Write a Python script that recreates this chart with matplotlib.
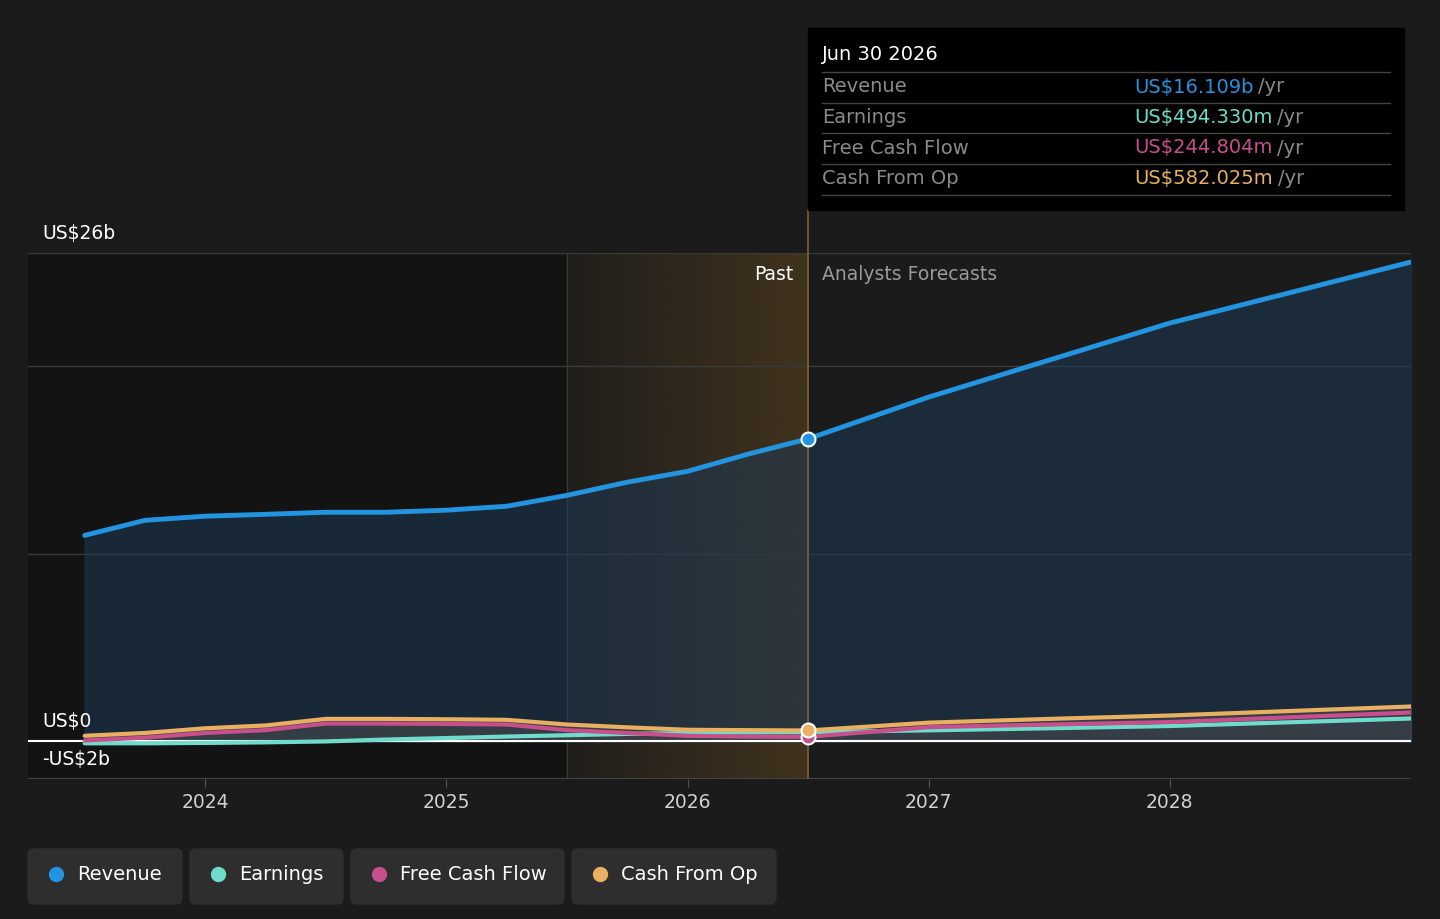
import numpy as np
import matplotlib
matplotlib.use("Agg")
import matplotlib.pyplot as plt
from matplotlib.patches import FancyBboxPatch, Rectangle

# datos (miles de millones US$)
past_x = [2023.5, 2023.75, 2024.0, 2024.25, 2024.5, 2024.75, 2025.0, 2025.25,
          2025.5, 2025.75, 2026.0, 2026.25, 2026.5]
revenue_past = [10.97, 11.77, 11.99, 12.09, 12.2, 12.2, 12.31, 12.52,
                13.1, 13.8, 14.38, 15.29, 16.109]
earnings_past = [-0.1, -0.1, -0.08, -0.05, 0.0, 0.1, 0.18, 0.26,
                 0.33, 0.4, 0.45, 0.48, 0.494]
fcf_past = [0.05, 0.2, 0.45, 0.6, 0.95, 0.95, 0.93, 0.9,
            0.6, 0.45, 0.3, 0.26, 0.245]
cfo_past = [0.3, 0.45, 0.7, 0.85, 1.2, 1.2, 1.18, 1.15,
            0.9, 0.75, 0.62, 0.6, 0.582]

fc_x = [2026.5, 2027.0, 2027.5, 2028.0, 2029.0]
revenue_fc = [16.109, 18.33, 20.3, 22.27, 25.52]
earnings_fc = [0.494, 0.59, 0.7, 0.82, 1.22]
fcf_fc = [0.245, 0.76, 0.9, 1.03, 1.54]
cfo_fc = [0.582, 1.0, 1.2, 1.38, 1.86]

year_ticks = [2024, 2025, 2026, 2027, 2028]

BG = "#1b1b1b"
C_REV = "#2394df"
C_EARN = "#6fdccb"
C_FCF = "#c64f8c"
C_CFO = "#e8b060"

W, H = 1440, 919
fig = plt.figure(figsize=(W / 100, H / 100), dpi=100, facecolor=BG)

x0_px, x1_px, ytop_px, ybot_px = 28, 1411, 253, 779
ax = fig.add_axes([x0_px / W, 1 - ybot_px / H, (x1_px - x0_px) / W, (ybot_px - ytop_px) / H])
ax.set_facecolor(BG)
ax.set_xlim(2023.265, 2029.0)
ax.set_ylim(-2, 26)
for s in ax.spines.values():
    s.set_visible(False)

# zona pasada oscura y degradado
ax.axvspan(2023.265, 2025.5, color="#131313", zorder=0)
grad = np.zeros((1, 256, 4))
c = matplotlib.colors.to_rgb("#4e3b1f")
grad[..., 0], grad[..., 1], grad[..., 2] = c
grad[..., 3] = np.linspace(0.1, 0.75, 256)
ax.imshow(grad, extent=[2025.5, 2026.5, -2, 26], aspect="auto", zorder=0.5)
ax.axvline(2025.5, color="#3a3a30", lw=1, zorder=1)

# rejilla
for g in [10, 20, 26]:
    ax.axhline(g, color="#3a3a3a", lw=1, zorder=1)
ax.axhline(-2, color="#444444", lw=1.5, zorder=1)

xs = past_x + fc_x[1:]
rev = revenue_past + revenue_fc[1:]
earn = earnings_past + earnings_fc[1:]
fcf = fcf_past + fcf_fc[1:]
cfo = cfo_past + cfo_fc[1:]

ax.fill_between(xs, 0, rev, color="#1e3a55", alpha=0.55, zorder=2)
ax.fill_between(xs, 0, cfo, color="#555555", alpha=0.45, zorder=2)

ax.axhline(0, color="white", lw=1.5, zorder=3)

ax.plot(xs, earn, color=C_EARN, lw=3, zorder=4, solid_capstyle="round")
ax.plot(xs, fcf, color=C_FCF, lw=3, zorder=5, solid_capstyle="round")
ax.plot(xs, cfo, color=C_CFO, lw=3, zorder=6, solid_capstyle="round")
ax.plot(xs, rev, color=C_REV, lw=3.5, zorder=6, solid_capstyle="round")

ax.axvline(2026.5, ymin=0, ymax=1, color="#7a6234", lw=1.2, zorder=3)

# puntos en el cursor
ax.plot([2026.5], [fcf_past[-1]], "o", ms=10, mfc=C_FCF, mec="white", mew=1.5, zorder=8)
ax.plot([2026.5], [cfo_past[-1]], "o", ms=10, mfc=C_CFO, mec="white", mew=1.5, zorder=9)
ax.plot([2026.5], [revenue_past[-1]], "o", ms=10, mfc=C_REV, mec="white", mew=1.5, zorder=9)

ax.set_xticks(year_ticks)
ax.set_xticklabels([str(y) for y in year_ticks])
ax.tick_params(axis="x", colors="#555555", labelcolor="#d0d0d0", labelsize=13.5, length=6, pad=4)
ax.set_yticks([])

# capa superpuesta en pixeles
ov = fig.add_axes([0, 0, 1, 1], facecolor="none")
ov.set_xlim(0, W)
ov.set_ylim(H, 0)
ov.axis("off")

ov.plot([808, 808], [210, 253], color="#7a6234", lw=1.2, zorder=3)

ov.text(42, 233, "US$26b", color="white", fontsize=13.5, va="center")
ov.text(42, 721, "US$0", color="white", fontsize=13.5, va="center")
ov.text(42, 759, "-US$2b", color="white", fontsize=13.5, va="center")
ov.text(793, 275, "Past", color="white", fontsize=13.5, va="center", ha="right")
ov.text(822, 275, "Analysts Forecasts", color="#9a9a9a", fontsize=13.5, va="center")

# tooltip
ov.add_patch(Rectangle((808, 28), 596, 182, color="black", zorder=10))
ov.text(822, 55, "Jun 30 2026", color="white", fontsize=14, va="center", zorder=11)
rows = [("Revenue", "US$16.109b", C_REV),
        ("Earnings", "US$494.330m", C_EARN),
        ("Free Cash Flow", "US$244.804m", C_FCF),
        ("Cash From Op", "US$582.025m", C_CFO)]
for i, (lab, val, col) in enumerate(rows):
    yy = 87 + i * 30.5
    ov.plot([822, 1390], [yy - 15, yy - 15], color="#444444", lw=1, zorder=11)
    ov.text(822, yy, lab, color="#8a8a8a", fontsize=14, va="center", zorder=11)
    t = ov.text(1134, yy, val, color=col, fontsize=14, va="center", zorder=11)
    fig.canvas.draw()
    bb = t.get_window_extent()
    xe = bb.x1 + 5
    ov.text(xe, yy, "/yr", color="#8a8a8a", fontsize=14, va="center", zorder=11)
ov.plot([822, 1390], [195, 195], color="#444444", lw=1, zorder=11)

# leyenda
legend = [("Revenue", C_REV, 28, 182), ("Earnings", C_EARN, 190, 343),
          ("Free Cash Flow", C_FCF, 351, 564), ("Cash From Op", C_CFO, 572, 776)]
for lab, col, a, b in legend:
    ov.add_patch(FancyBboxPatch((a, 849), b - a, 55, boxstyle="round,pad=0,rounding_size=6",
                                color="#2e2e2e", zorder=10))
    ov.plot([a + 28], [873.5], "o", ms=10, color=col, zorder=11)
    ov.text(a + 49, 874, lab, color="white", fontsize=14, va="center", zorder=11)

fig.savefig("out.png", dpi=100, facecolor=BG)
